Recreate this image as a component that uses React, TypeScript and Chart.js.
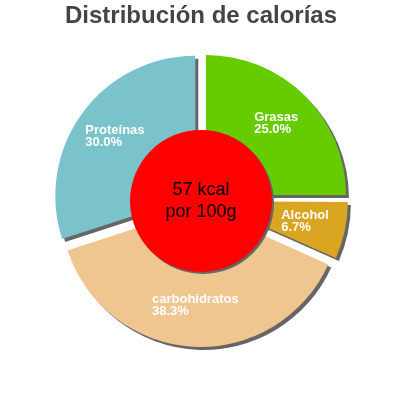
import React, { useEffect, useRef } from 'react';
import { Chart, registerables, Plugin } from 'chart.js';

Chart.register(...registerables);

// Chart data
const labels = ['Grasas', 'Alcohol', 'carbohidratos', 'Proteínas'];
const values = [25.0, 6.7, 38.3, 30.0];
const colors = ['#66cc00', '#daa520', '#efc690', '#7ac3cb'];
const centerLines = ['57 kcal', 'por 100g'];
const titleText = 'Distribución de calorías';

const SLICE_OFFSET = 28; // chart.js moves arcs by offset / 4

// Drop shadow under slices; also undo chart.js's radius growth on narrow offset arcs
const shadowPlugin: Plugin<'pie'> = {
  id: 'sliceShadow',
  beforeDatasetsDraw: (chart) => {
    const meta = chart.getDatasetMeta(0);
    meta.data.forEach((el: any) => {
      const fix = 1 - Math.sin(Math.min(Math.PI, el.circumference || 0));
      el._baseOuter = el.outerRadius;
      el.outerRadius = el.outerRadius - (SLICE_OFFSET / 4) * fix;
    });
    const ctx = chart.ctx;
    ctx.save();
    ctx.shadowColor = '#666666';
    ctx.shadowOffsetX = 3;
    ctx.shadowOffsetY = 3;
    ctx.shadowBlur = 0;
  },
  afterDatasetsDraw: (chart) => {
    chart.ctx.restore();
    chart.getDatasetMeta(0).data.forEach((el: any) => {
      if (el._baseOuter !== undefined) el.outerRadius = el._baseOuter;
    });
  }
};

// Red centre disc with energy text, plus slice labels
const overlayPlugin: Plugin<'pie'> = {
  id: 'overlay',
  afterDatasetsDraw: (chart) => {
    const ctx = chart.ctx;
    const meta = chart.getDatasetMeta(0);
    const total = values.reduce((a, b) => a + b, 0);

    // slice labels
    ctx.save();
    ctx.font = 'bold 13px "Liberation Sans", Arial, sans-serif';
    ctx.fillStyle = '#ffffff';
    ctx.textAlign = 'left';
    ctx.textBaseline = 'middle';
    meta.data.forEach((el: any, i) => {
      const { x, y, startAngle, endAngle } = el;
      const outerRadius = el._baseOuter ?? el.outerRadius;
      const mid = (startAngle + endAngle) / 2;
      const shift = SLICE_OFFSET / 4;
      const ax = x + Math.cos(mid) * (shift + outerRadius * 0.71);
      const ay = y + Math.sin(mid) * (shift + outerRadius * 0.71);
      const lines = [labels[i], ((values[i] / total) * 100).toFixed(1) + '%'];
      const w = Math.max(...lines.map(l => ctx.measureText(l).width));
      ctx.fillText(lines[0], ax - w / 2, ay - 7);
      ctx.fillText(lines[1], ax - w / 2, ay + 5);
    });
    ctx.restore();

    // centre disc
    const first: any = meta.data[0];
    const cx = first.x;
    const cy = first.y + 1;
    ctx.save();
    ctx.shadowColor = '#666666';
    ctx.shadowOffsetX = 2;
    ctx.shadowOffsetY = 2;
    ctx.shadowBlur = 0;
    ctx.beginPath();
    ctx.arc(cx, cy, 71, 0, Math.PI * 2);
    ctx.fillStyle = '#ff0000';
    ctx.fill();
    ctx.restore();

    ctx.save();
    ctx.font = '18px "Liberation Sans", Arial, sans-serif';
    ctx.fillStyle = '#000000';
    ctx.textAlign = 'center';
    ctx.textBaseline = 'middle';
    ctx.fillText(centerLines[0], cx, cy - 11);
    ctx.fillText(centerLines[1], cx, cy + 11);
    ctx.restore();
  }
};

const CaloriesPie: React.FC = () => {
  const canvasRef = useRef<HTMLCanvasElement | null>(null);

  useEffect(() => {
    if (!canvasRef.current) return;
    const chart = new Chart(canvasRef.current, {
      type: 'pie',
      data: {
        labels,
        datasets: [
          {
            data: values,
            backgroundColor: colors,
            borderWidth: 0,
            offset: SLICE_OFFSET,
            hoverOffset: 0
          }
        ]
      },
      options: {
        responsive: true,
        maintainAspectRatio: false,
        animation: false,
        events: [],
        layout: {
          padding: { left: 47, right: 45, top: 0, bottom: 46 }
        },
        plugins: {
          legend: { display: false },
          tooltip: { enabled: false },
          title: {
            display: true,
            text: titleText,
            color: '#444444',
            font: { family: '"Liberation Sans", Arial, sans-serif', size: 24, weight: 'bold' },
            padding: { top: 2, bottom: 15 }
          }
        }
      },
      plugins: [shadowPlugin, overlayPlugin]
    });

    return () => {
      chart.destroy();
    };
  }, []);

  return (
    <div style={{ position: 'absolute', left: 0, top: 0, width: 400, height: 400, background: '#fff' }}>
      <canvas ref={canvasRef}></canvas>
    </div>
  );
};

export default function App() {
  return <CaloriesPie />;
}
